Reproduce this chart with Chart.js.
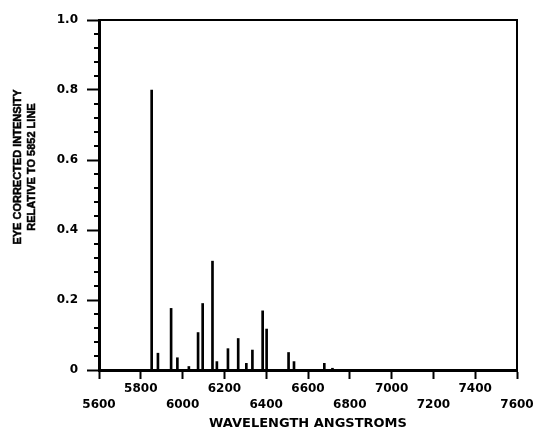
<!DOCTYPE html>
<html>
<head>
<meta charset="utf-8">
<script src="https://cdn.jsdelivr.net/npm/chart.js@4/dist/chart.umd.min.js"></script>
<style>
  html, body { margin: 0; padding: 0; background: #fff; }
  #wrap { width: 536px; height: 434px; }
</style>
</head>
<body>
<div id="wrap"><canvas id="spectrum"></canvas></div>
<script>
// spectral lines (wavelength in angstroms, relative intensity)
const wavelengths = [5852, 5882, 5945, 5975, 6030, 6074, 6096, 6143, 6164, 6217, 6266, 6305, 6334, 6383, 6402, 6507, 6533, 6678, 6717]
const intensities = [0.80, 0.048, 0.176, 0.035, 0.010, 0.107, 0.19, 0.311, 0.024, 0.061, 0.09, 0.019, 0.057, 0.169, 0.117, 0.05, 0.024, 0.019, 0.005]

const xTitle = 'WAVELENGTH ANGSTROMS'
const yTitle = ['EYE CORRECTED INTENSITY', 'RELATIVE TO 5852 LINE']

const tickFont = { family: 'DejaVu Sans', weight: 'bold', size: 12, lineHeight: 1.3 }

// frame, minor y ticks and the two-line y title
const extras = {
  id: 'extras',
  afterDraw(chart) {
    const ctx = chart.ctx
    const area = chart.chartArea
    const y = chart.scales.y
    ctx.save()
    ctx.strokeStyle = '#000'
    ctx.lineWidth = 2
    ctx.beginPath()
    ctx.moveTo(area.left, area.top)
    ctx.lineTo(area.right, area.top)
    ctx.lineTo(area.right, area.bottom)
    ctx.stroke()

    for (let i = 1; i < 25; i++) {
      if (i % 5 === 0) continue
      const py = y.getPixelForValue(i * 0.04)
      ctx.beginPath()
      ctx.moveTo(area.left - 5, py)
      ctx.lineTo(area.left, py)
      ctx.stroke()
    }

    ctx.fillStyle = '#000'
    ctx.lineWidth = 0.5
    ctx.font = 'bold 11px "Liberation Sans"'
    ctx.textAlign = 'center'
    ctx.textBaseline = 'middle'
    ctx.translate(18, 167)
    ctx.rotate(-Math.PI / 2)
    ctx.fillText(yTitle[0], 0, 0)
    ctx.strokeText(yTitle[0], 0, 0)
    ctx.fillText(yTitle[1], 0, 14)
    ctx.strokeText(yTitle[1], 0, 14)
    ctx.restore()
  }
}

new Chart(document.getElementById('spectrum'), {
  type: 'bar',
  data: {
    datasets: [{
      data: wavelengths.map((w, i) => ({ x: w, y: intensities[i] })),
      backgroundColor: '#000',
      borderWidth: 0,
      barThickness: 2
    }]
  },
  options: {
    responsive: true,
    maintainAspectRatio: false,
    animation: false,
    layout: { padding: { left: 0, right: 19, top: 20, bottom: 0 } },
    plugins: { legend: false, tooltip: false },
    scales: {
      x: {
        type: 'linear',
        min: 5600,
        max: 7600,
        offset: false,
        border: { color: '#000', width: 3 },
        grid: { drawOnChartArea: false, drawTicks: true, tickLength: 9, tickWidth: 2, color: '#000', offset: false },
        ticks: {
          stepSize: 200,
          autoSkip: false,
          maxRotation: 0,
          padding: 2,
          color: '#000',
          font: tickFont,
          callback: (v, i) => i % 2 === 0 ? ['', String(v)] : [String(v)]
        },
        title: {
          display: true,
          text: xTitle,
          color: '#000',
          font: { family: 'DejaVu Sans', weight: 'bold', size: 13 },
          padding: { top: 0, bottom: 3 }
        },
        afterFit: s => { s.height = 64 }
      },
      y: {
        min: 0,
        max: 1,
        border: { color: '#000', width: 3 },
        grid: { drawOnChartArea: false, drawTicks: true, tickLength: 12, tickWidth: 2, color: '#000' },
        ticks: {
          stepSize: 0.2,
          padding: 9,
          color: '#000',
          font: tickFont,
          callback: v => v === 0 ? '0' : v.toFixed(1)
        },
        afterFit: s => { s.width = 99 }
      }
    }
  },
  plugins: [extras]
})
</script>
</body>
</html>
